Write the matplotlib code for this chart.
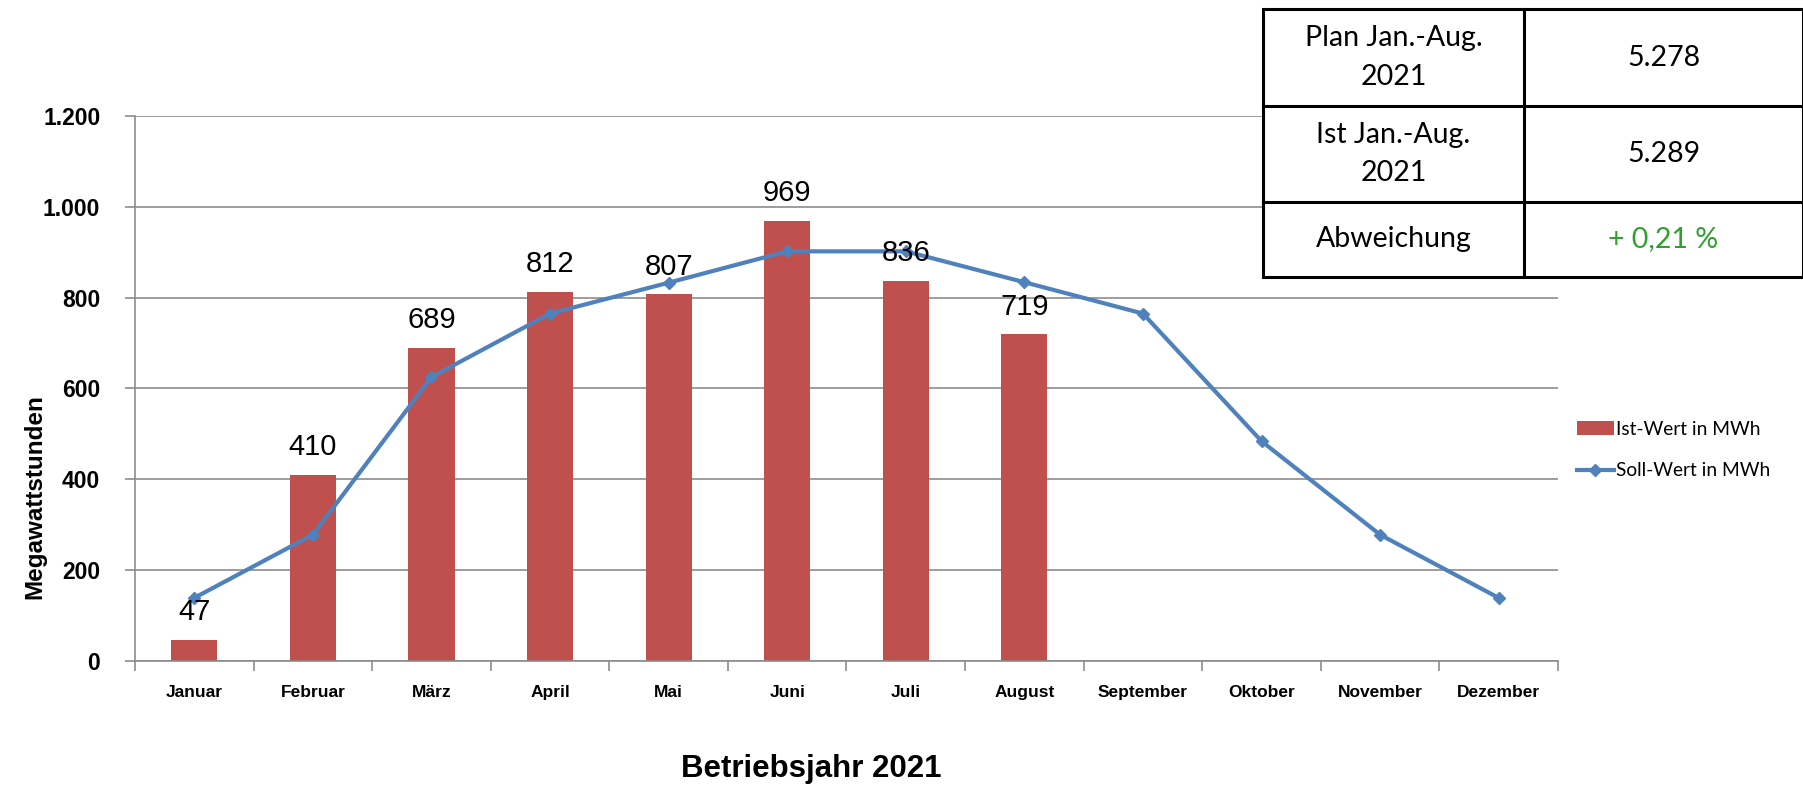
import matplotlib
matplotlib.use("Agg")
import matplotlib.pyplot as plt
from matplotlib.lines import Line2D
from matplotlib.patches import Rectangle
from matplotlib.ticker import FuncFormatter

# ── data ─────────────────────────────────────
months = ["Januar", "Februar", "März", "April", "Mai", "Juni", "Juli",
          "August", "September", "Oktober", "November", "Dezember"]
ist_mwh = [47, 410, 689, 812, 807, 969, 836, 719]
soll_mwh = [139, 278, 625, 765, 833, 902, 902, 834, 765, 484, 278, 139]

table_labels = ["Plan Jan.-Aug.\n2021", "Ist Jan.-Aug.\n2021", "Abweichung"]
table_values = ["5.278", "5.289", "+ 0,21 %"]

BAR_RED = "#C0504D"
LINE_BLUE = "#4F81BD"
GRID = "#8C8C8C"

W, H = 1803, 787
fig = plt.figure(figsize=(W / 100, H / 100), dpi=100)

def fx(px):
    return px / W

def fy(py):
    return 1 - py / H

# plot area in pixels: x 135..1558, y 116..661
ax = fig.add_axes([fx(135), fy(661), fx(1558) - fx(135), fy(116) - fy(661)])

x = list(range(len(months)))
bars = ax.bar(x[:len(ist_mwh)], ist_mwh, width=0.39, color=BAR_RED, zorder=2,
              label="Ist-Wert in MWh")
line, = ax.plot(x, soll_mwh, color=LINE_BLUE, linewidth=3, marker="D",
                markersize=6, zorder=3, label="Soll-Wert in MWh")

for xi, v in zip(x, ist_mwh):
    ax.annotate(str(v), (xi, v), xytext=(0, 10), textcoords="offset points",
                ha="center", va="bottom", fontsize=21,
                family="Liberation Sans", zorder=4)

ax.set_xlim(-0.5, len(months) - 0.5)
ax.set_ylim(0, 1200)
ax.set_yticks(range(0, 1201, 200))
ax.yaxis.set_major_formatter(
    FuncFormatter(lambda v, _: f"{int(v):,}".replace(",", ".")))
ax.grid(axis="y", color=GRID, linewidth=1.2, zorder=0)

ax.set_xticks(x)
ax.set_xticklabels(months)
ax.set_xticks([i - 0.5 for i in range(len(months) + 1)], minor=True)
ax.tick_params(axis="x", which="major", length=0, pad=17)
ax.tick_params(axis="x", which="minor", length=7, color=GRID, width=1.2)
ax.tick_params(axis="y", length=7, color=GRID, width=1.2, pad=18)
for lbl in ax.get_xticklabels():
    lbl.set_fontfamily("Liberation Sans")
    lbl.set_fontweight("bold")
    lbl.set_fontsize(12.5)
for lbl in ax.get_yticklabels():
    lbl.set_fontfamily("Liberation Sans")
    lbl.set_fontweight("bold")
    lbl.set_fontsize(16.5)

for side in ["top", "right"]:
    ax.spines[side].set_visible(False)
for side in ["left", "bottom"]:
    ax.spines[side].set_color(GRID)
    ax.spines[side].set_linewidth(1.2)

fig.text(fx(35), fy(497), "Megawattstunden", rotation=90, ha="center",
         va="center", fontsize=17.5, fontweight="bold",
         family="Liberation Sans")
fig.text(fx(811), fy(769), "Betriebsjahr 2021", ha="center", va="center",
         fontsize=22.5, fontweight="bold", family="Liberation Sans")

# legend
fig.legend([bars, line], ["Ist-Wert in MWh", "Soll-Wert in MWh"],
           loc="center left", bbox_to_anchor=(fx(1560), fy(450)),
           frameon=False, handlelength=1.9, handletextpad=0.1,
           labelspacing=1.3, prop={"family": "Lato", "size": 13.8})

# ── info table (top right) ───────────────────
tab_left, tab_div, tab_right = 1263, 1524, 1803
row_edges = [9, 106, 202, 277]
lw = 2.2
fig.add_artist(Rectangle((fx(tab_left), fy(row_edges[-1])),
                         fx(tab_right) - fx(tab_left),
                         fy(row_edges[0]) - fy(row_edges[-1]),
                         transform=fig.transFigure, facecolor="white",
                         edgecolor="black", linewidth=lw, zorder=5))
for ry in row_edges[1:-1]:
    fig.add_artist(Line2D([fx(tab_left), fx(tab_right)], [fy(ry), fy(ry)],
                          color="black", linewidth=lw, zorder=6))
fig.add_artist(Line2D([fx(tab_div), fx(tab_div)],
                      [fy(row_edges[0]), fy(row_edges[-1])],
                      color="black", linewidth=lw, zorder=6))

for i, (lab, val) in enumerate(zip(table_labels, table_values)):
    cy = (row_edges[i] + row_edges[i + 1]) / 2
    fig.text(fx((tab_left + tab_div) / 2), fy(cy), lab, ha="center",
             va="center", fontsize=20.5, family="Lato", linespacing=1.6,
             zorder=7)
    fig.text(fx((tab_div + tab_right) / 2), fy(cy), val, ha="center",
             va="center", fontsize=20.5, family="Lato", zorder=7,
             color="#2EA02E" if i == 2 else "black")

fig.savefig("out.png", dpi=100)
